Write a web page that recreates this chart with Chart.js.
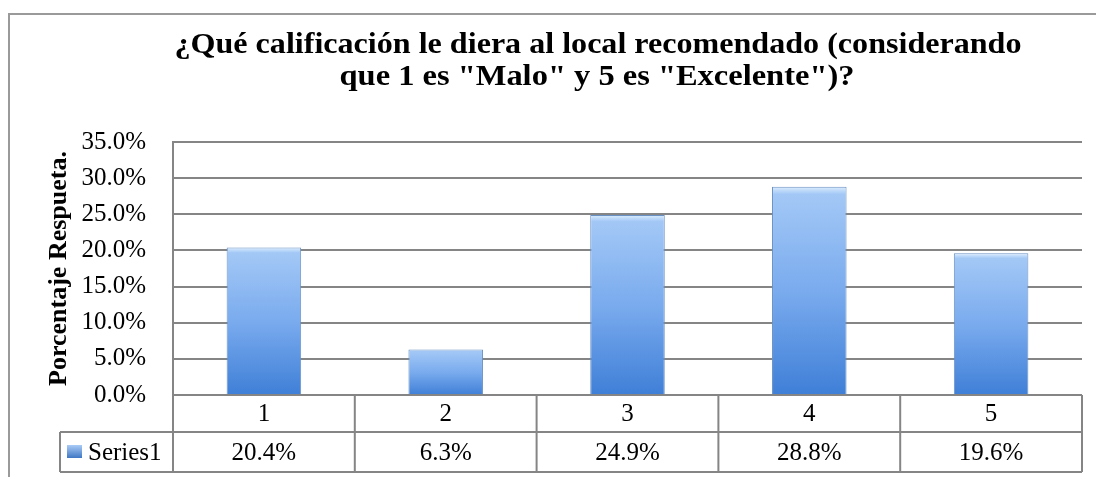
<!DOCTYPE html>
<html>
<head>
<meta charset="utf-8">
<script src="https://cdn.jsdelivr.net/npm/chart.js@4.4.1/dist/chart.umd.min.js"></script>
<style>
  body { margin: 0; background: #fff; }
  #wrap { width: 1096px; height: 477px; }
</style>
</head>
<body>
<div id="wrap"><canvas id="chart" width="1096" height="477"></canvas></div>
<script>
// chart data
const categories = ['1', '2', '3', '4', '5'];
const series1 = [20.4, 6.3, 24.9, 28.8, 19.6];
const seriesName = 'Series1';
const titleLines = ['¿Qué calificación le diera al local recomendado (considerando', 'que 1 es "Malo" y 5 es "Excelente")?'];
const yTitle = 'Porcentaje Respueta.';

const serif = '"Liberation Serif", "Times New Roman", serif';
const lineGray = '#858585';

function barFill(c) {
    const chart = c.chart;
    if (!chart.chartArea) return '#7fb0ee';
    const y = chart.scales.y;
    const top = y.getPixelForValue(c.parsed ? c.parsed.y : 0);
    const bottom = y.getPixelForValue(0);
    const g = chart.ctx.createLinearGradient(0, top, 0, bottom);
    g.addColorStop(0, '#dcedfd');
    g.addColorStop(0.035, '#a3c8f6');
    g.addColorStop(0.5, '#7aabee');
    g.addColorStop(1, '#3f7fd7');
    return g;
}

// draw text stretched to a given width (the original title is a bit wide)
function fitText(ctx, text, cx, y, width) {
    const w = ctx.measureText(text).width;
    ctx.save();
    ctx.translate(cx, y);
    ctx.scale(width / w, 1);
    ctx.fillText(text, 0, 0);
    ctx.restore();
}

// border, title and data table under the plot
const extras = {
    id: 'extras',
    beforeDraw(chart) {
        const ctx = chart.ctx;
        ctx.save();
        ctx.strokeStyle = '#9a9a9a';
        ctx.lineWidth = 2;
        ctx.beginPath();
        ctx.moveTo(9, 480);
        ctx.lineTo(9, 14);
        ctx.lineTo(1100, 14);
        ctx.stroke();
        ctx.restore();
    },
    afterDraw(chart) {
        const ctx = chart.ctx;
        const area = chart.chartArea;
        const x = chart.scales.x;
        ctx.save();
        // title
        ctx.fillStyle = '#000';
        ctx.font = 'bold 30px ' + serif;
        ctx.textAlign = 'center';
        ctx.textBaseline = 'alphabetic';
        fitText(ctx, titleLines[0], 598, 53, 847);
        fitText(ctx, titleLines[1], 597, 85, 515);

        // table
        const row1 = area.bottom, row2 = row1 + 37, row3 = row2 + 40;
        const keyLeft = 60;
        const colW = (area.right - area.left) / categories.length;
        ctx.strokeStyle = lineGray;
        ctx.lineWidth = 2;
        ctx.beginPath();
        ctx.moveTo(area.left, row1); ctx.lineTo(area.left, row3);
        ctx.moveTo(keyLeft, row2); ctx.lineTo(area.right, row2);
        ctx.moveTo(keyLeft, row3); ctx.lineTo(area.right, row3);
        ctx.moveTo(keyLeft, row2); ctx.lineTo(keyLeft, row3);
        categories.forEach((c, i) => {
            const r = x.getPixelForValue(i) + colW / 2;
            ctx.moveTo(r, row1); ctx.lineTo(r, row3);
        });
        ctx.stroke();

        ctx.font = '25px ' + serif;
        ctx.textBaseline = 'middle';
        ctx.textAlign = 'center';
        categories.forEach((c, i) => {
            const cx = x.getPixelForValue(i);
            ctx.fillText(c, cx, (row1 + row2) / 2 + 1);
            ctx.fillText(series1[i].toFixed(1) + '%', cx, (row2 + row3) / 2 + 1);
        });
        // legend key
        const kg = ctx.createLinearGradient(0, row2 + 13, 0, row2 + 26);
        kg.addColorStop(0, '#a9cbf6');
        kg.addColorStop(1, '#3f77c4');
        ctx.fillStyle = kg;
        ctx.fillRect(keyLeft + 7, row2 + 13, 15, 13);
        ctx.fillStyle = '#000';
        ctx.textAlign = 'left';
        ctx.fillText(seriesName, keyLeft + 28, (row2 + row3) / 2 + 1);
        ctx.restore();
    }
};

new Chart(document.getElementById('chart'), {
    type: 'bar',
    data: {
        labels: categories,
        datasets: [{
            label: seriesName,
            data: series1,
            backgroundColor: barFill,
            borderColor: '#6a91c4',
            borderWidth: 1,
            barPercentage: 0.41,
            categoryPercentage: 1
        }]
    },
    options: {
        responsive: false,
        animation: false,
        events: [],
        layout: { padding: { left: 44, right: 14, top: 142, bottom: 82 } },
        plugins: {
            legend: { display: false },
            title: { display: false },
            tooltip: { enabled: false }
        },
        scales: {
            x: { display: false },
            y: {
                min: 0,
                max: 35,
                z: 1,
                afterFit(scale) { scale.width = 129; },
                ticks: {
                    stepSize: 5,
                    padding: 27,
                    color: '#000',
                    font: { family: serif, size: 25 },
                    callback: v => v.toFixed(1) + '%'
                },
                grid: { color: lineGray, lineWidth: 2, drawTicks: false },
                border: { color: lineGray, width: 2 },
                title: {
                    display: true,
                    text: yTitle,
                    color: '#000',
                    padding: 0,
                    font: { family: serif, size: 26, weight: 'bold' }
                }
            }
        }
    },
    plugins: [extras]
});
</script>
</body>
</html>
